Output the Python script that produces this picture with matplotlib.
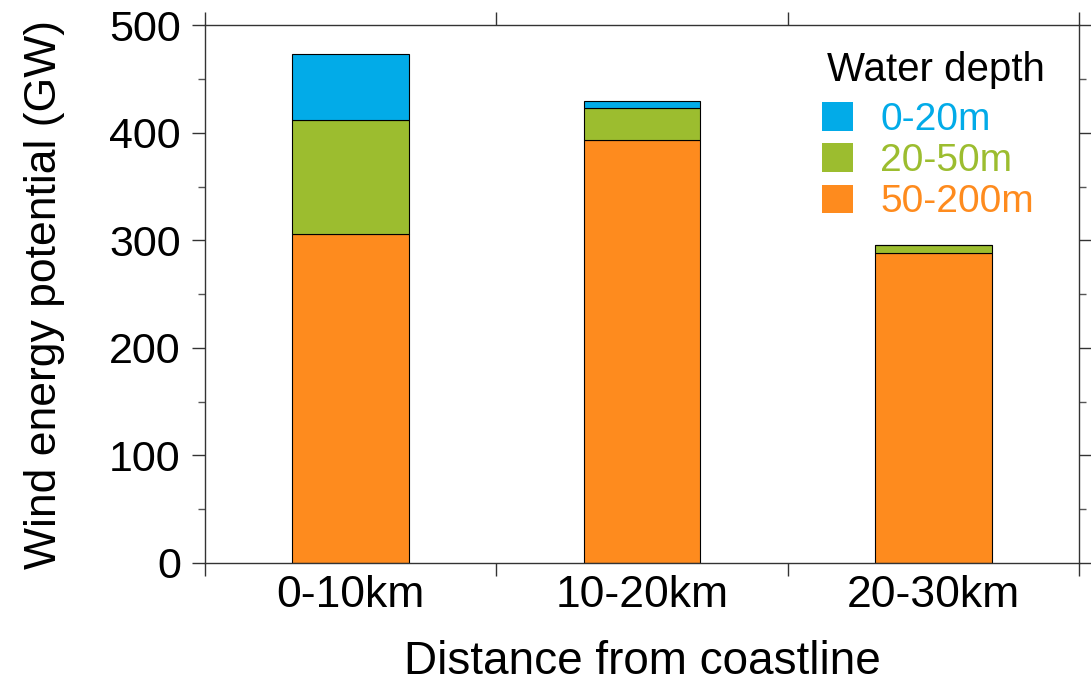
import matplotlib
matplotlib.use("Agg")
import matplotlib.pyplot as plt
from matplotlib.ticker import MultipleLocator, FixedLocator, NullFormatter, FixedFormatter

plt.rcParams['font.family'] = ['Liberation Sans', 'DejaVu Sans']

categories = ['0-10km', '10-20km', '20-30km']
depth_labels = ['0-20m', '20-50m', '50-200m']
v_0_20 = [61, 7, 0]
v_20_50 = [106, 30, 8]
v_50_200 = [306, 393, 288]
colors = {'0-20m': '#02ABE8', '20-50m': '#9CBD2F', '50-200m': '#FE8B1E'}

fig = plt.figure(figsize=(10.91, 6.83), dpi=100)
ax = fig.add_axes([0.188, 0.176, 0.801, 0.787])

xpos = [i + 0.5 for i in range(len(categories))]
w = 0.4
b1 = ax.bar(xpos, v_50_200, w, color=colors['50-200m'], edgecolor='black', linewidth=0.8, label='50-200m')
bottom2 = v_50_200
b2 = ax.bar(xpos, v_20_50, w, bottom=bottom2, color=colors['20-50m'], edgecolor='black', linewidth=0.8, label='20-50m')
bottom3 = [a + b for a, b in zip(v_50_200, v_20_50)]
b3 = ax.bar(xpos, v_0_20, w, bottom=bottom3, color=colors['0-20m'], edgecolor='black', linewidth=0.8, label='0-20m')

ax.set_xlim(0, 3)
ax.set_ylim(0, 500)
ax.xaxis.set_major_locator(FixedLocator([0, 1, 2, 3]))
ax.xaxis.set_major_formatter(NullFormatter())
ax.xaxis.set_minor_locator(FixedLocator(xpos))
ax.xaxis.set_minor_formatter(FixedFormatter(categories))
ax.yaxis.set_major_locator(MultipleLocator(100))
ax.yaxis.set_minor_locator(MultipleLocator(50))

ax.tick_params(axis='both', which='major', direction='out', length=9.5, width=1,
               top=True, right=True, labelsize=31, color='#333333')
ax.tick_params(axis='y', which='minor', direction='out', length=5, width=1,
               right=True, color='#555555')
ax.tick_params(axis='x', which='minor', length=0, labelsize=32, pad=9)
ax.tick_params(axis='y', which='major', pad=8)

for s in ax.spines.values():
    s.set_linewidth(1)
    s.set_color('#333333')

ax.set_ylabel('Wind energy potential (GW)', fontsize=32, labelpad=32)
ax.set_xlabel('Distance from coastline', fontsize=33, labelpad=17)

ax.text(0.836, 0.953, 'Water depth', transform=ax.transAxes, ha='center', va='top',
        fontsize=29, color='black')

handles = [b3, b2, b1]
leg = ax.legend(handles, depth_labels, loc='upper right',
                bbox_to_anchor=(0.9886, 0.922), frameon=False, fontsize=28,
                handlelength=0.8, handleheight=0.75,
                handletextpad=0.7, labelspacing=0.13)
for t, lab in zip(leg.get_texts(), depth_labels):
    t.set_color(colors[lab])
for h in leg.legend_handles:
    h.set_edgecolor('none')

fig.savefig('out.png', dpi=100)
